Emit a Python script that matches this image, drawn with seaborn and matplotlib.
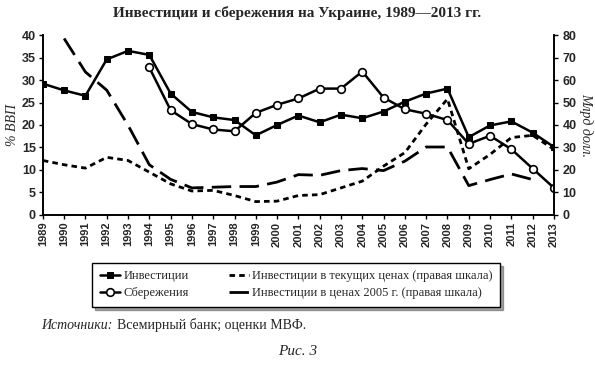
import numpy as np
import pandas as pd
import matplotlib
matplotlib.use("Agg")
import matplotlib.pyplot as plt
import seaborn as sns

years = list(range(1989, 2014))

# % ВВП (left scale)
investment_gdp = [29.2, 27.7, 26.5, 34.6, 36.5, 35.6, 27.0, 22.9, 21.7, 21.1, 17.7,
                  20.0, 22.1, 20.6, 22.3, 21.5, 23.0, 25.2, 27.0, 28.1, 17.3,
                  19.9, 20.8, 18.3, 15.1]
savings_gdp = [np.nan, np.nan, np.nan, np.nan, np.nan, 32.8, 23.3, 20.2, 19.0, 18.6, 22.7,
               24.5, 25.9, 28.1, 28.1, 31.9, 26.1, 23.5, 22.5, 21.1, 15.8,
               17.6, 14.6, 10.3, 6.0]

# млрд долл. (right scale)
inv_current = [24.2, 22.3, 20.8, 25.6, 24.2, 19.0, 13.8, 10.6, 10.9, 8.6, 5.9,
               6.1, 8.6, 9.0, 12.0, 15.0, 21.7, 27.7, 40.4, 51.6, 20.5,
               26.9, 34.4, 35.4, 29.1]
inv_2005 = [np.nan, 78.5, 63.6, 55.5, 39.9, 22.3, 15.8, 12.0, 12.3, 12.6, 12.6,
            14.6, 17.9, 17.6, 19.7, 20.6, 19.7, 23.9, 30.2, 30.2, 13.0,
            15.7, 18.2, 15.7, np.nan]

labels = ["Инвестиции", "Сбережения",
          "Инвестиции в текущих ценах (правая шкала)",
          "Инвестиции в ценах 2005 г. (правая шкала)"]

df = pd.DataFrame({"year": years, "inv": investment_gdp, "sav": savings_gdp,
                   "cur": inv_current, "c2005": inv_2005})

sns.set_style("ticks")
plt.rcParams["font.family"] = ["Liberation Serif", "DejaVu Serif"]

fig = plt.figure(figsize=(5.95, 3.66), dpi=100)
ax = fig.add_axes([0.072, 0.413, 0.859, 0.491])
ax2 = ax.twinx()

sns.lineplot(data=df, x="year", y="inv", ax=ax, color="black", lw=1.8,
             marker="s", markersize=5, markeredgecolor="black", label=labels[0], legend=False)
sns.lineplot(data=df, x="year", y="sav", ax=ax, color="black", lw=1.8,
             marker="o", markersize=5.5, markerfacecolor="white", markeredgecolor="black",
             markeredgewidth=1.2, label=labels[1], legend=False)
sns.lineplot(data=df, x="year", y="cur", ax=ax2, color="black", lw=2.0,
             linestyle=(0, (2, 1.5)), label=labels[2], legend=False)
sns.lineplot(data=df, x="year", y="c2005", ax=ax2, color="black", lw=2.0,
             linestyle=(0, (7, 3)), label=labels[3], legend=False)

ax.set_xlim(1989, 2013)
ax.set_ylim(0, 40)
ax2.set_ylim(0, 80)
ax.set_xticks(years)
ax.set_yticks(range(0, 41, 5))
ax2.set_yticks(range(0, 81, 10))

tick_font = {"family": "Liberation Sans", "weight": "bold"}
ax.set_xticklabels([str(y) for y in years], rotation=90, fontsize=8, **tick_font)
ax.set_yticklabels([str(v) for v in range(0, 41, 5)], fontsize=9, **tick_font)
ax2.set_yticklabels([str(v) for v in range(0, 81, 10)], fontsize=9, **tick_font)

ax.set_xlabel("")
ax.set_ylabel("% ВВП", fontsize=10, style="italic", labelpad=2)
ax2.set_ylabel("Млрд долл.", fontsize=10, style="italic", rotation=270, labelpad=12)

for a in (ax, ax2):
    a.spines["top"].set_visible(False)
    for s in ("left", "right", "bottom"):
        a.spines[s].set_linewidth(1.2)
        a.spines[s].set_color("black")
ax.tick_params(axis="both", length=3, width=1, color="black", pad=2)
ax2.tick_params(axis="y", length=3, width=1, color="black", pad=3)

fig.text(0.5, 0.965, "Инвестиции и сбережения на Украине, 1989—2013 гг.",
         ha="center", va="center", fontsize=11, weight="bold")

h1, l1 = ax.get_legend_handles_labels()
h2, l2 = ax2.get_legend_handles_labels()
leg = fig.legend(h1 + h2, l1 + l2, ncol=2, loc="center",
                 bbox_to_anchor=(0.498, 0.222), frameon=True, shadow=True,
                 fancybox=False, fontsize=9, handlelength=1.6, handletextpad=0.3,
                 columnspacing=3.2, borderpad=0.6, labelspacing=0.4)
leg.get_frame().set_edgecolor("black")
leg.get_frame().set_linewidth(1.0)

fig.text(0.07, 0.112, "Источники:", fontsize=10, style="italic", ha="left", va="center")
fig.text(0.196, 0.112, "Всемирный банк; оценки МВФ.", fontsize=10, ha="left", va="center")
fig.text(0.5, 0.04, "Рис. 3", fontsize=11, style="italic", ha="center", va="center")

fig.savefig("out.png", dpi=100, facecolor="white")
